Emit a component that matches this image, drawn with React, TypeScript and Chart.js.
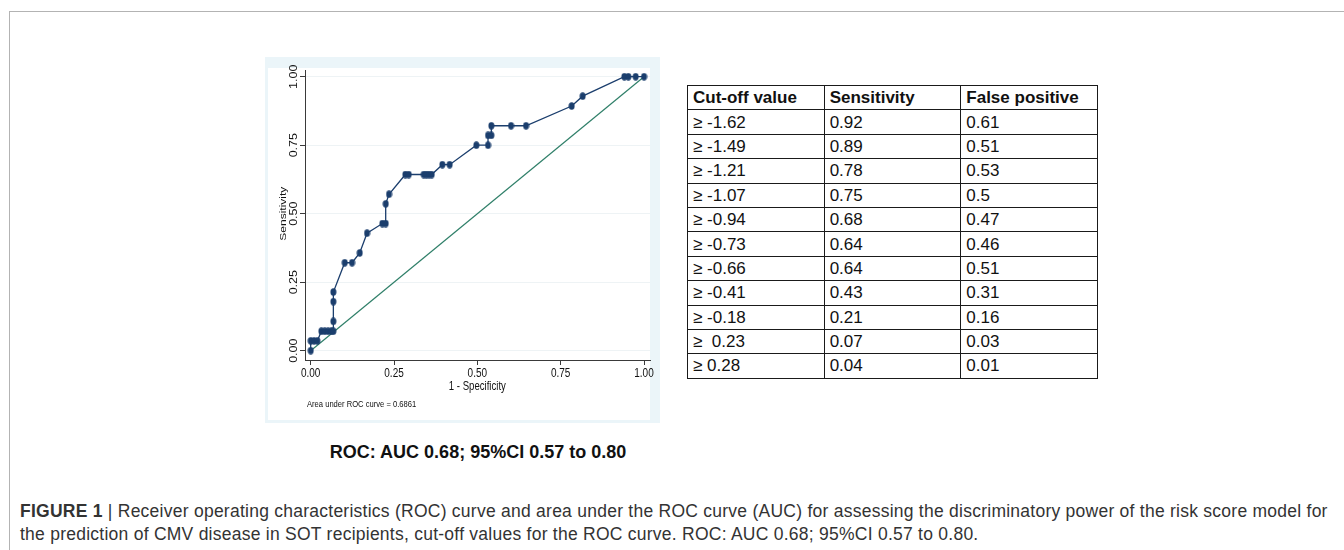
import React, { useEffect, useRef } from "react";
import { Chart, registerables } from "chart.js";

Chart.register(...registerables);

// ---------- data ----------
const fprValues = [
  0, 0, 0.01, 0.02, 0.032, 0.042, 0.052, 0.062, 0.068, 0.068, 0.068, 0.068,
  0.102, 0.124, 0.147, 0.169, 0.215, 0.225, 0.225, 0.235, 0.284, 0.294, 0.339,
  0.347, 0.355, 0.363, 0.395, 0.417, 0.497, 0.532, 0.532, 0.542, 0.542, 0.601,
  0.646, 0.783, 0.816, 0.941, 0.953, 0.975, 1.0,
];
const sensValues = [
  0, 0.036, 0.036, 0.036, 0.071, 0.071, 0.071, 0.071, 0.071, 0.107, 0.179,
  0.214, 0.321, 0.321, 0.357, 0.429, 0.464, 0.464, 0.536, 0.571, 0.643, 0.643,
  0.643, 0.643, 0.643, 0.643, 0.679, 0.679, 0.75, 0.75, 0.786, 0.786, 0.821,
  0.821, 0.821, 0.893, 0.929, 1, 1, 1, 1,
];
const referenceX = [0, 1];
const referenceY = [0, 1];
const tickValues = [0, 0.25, 0.5, 0.75, 1];
const tickLabels = ["0.00", "0.25", "0.50", "0.75", "1.00"];
const xTitle = "1 - Specificity";
const yTitle = "Sensitivity";
const aucNote = "Area under ROC curve = 0.6861";
const ciCaption = "ROC: AUC 0.68; 95%CI 0.57 to 0.80";

const tableHeaders = ["Cut-off value", "Sensitivity", "False positive"];
const cutoffValues = [
  "≥ -1.62", "≥ -1.49", "≥ -1.21", "≥ -1.07", "≥ -0.94", "≥ -0.73",
  "≥ -0.66", "≥ -0.41", "≥ -0.18", "≥\u00a0\u00a00.23", "≥ 0.28",
];
const sensitivityValues = [
  "0.92", "0.89", "0.78", "0.75", "0.68", "0.64", "0.64", "0.43", "0.21",
  "0.07", "0.04",
];
const falsePositiveValues = [
  "0.61", "0.51", "0.53", "0.5", "0.47", "0.46", "0.51", "0.31", "0.16",
  "0.03", "0.01",
];

const figureLabel = "FIGURE 1";
const figureLine1 =
  "Receiver operating characteristics (ROC) curve and area under the ROC curve (AUC) for assessing the discriminatory power of the risk score model for";
const figureLine2 =
  "the prediction of CMV disease in SOT recipients, cut-off values for the ROC curve. ROC: AUC 0.68; 95%CI 0.57 to 0.80.";

// ---------- styles ----------
const NAVY = "#1b3e6d";
const GREEN = "#2f7f69";
const AXIS = "#3a3a3a";
const PANEL = "#ebf5f9";
const FONT = '"Liberation Sans", Arial, Helvetica, sans-serif';
const SQUEEZE = 0.8;

function makeMarker(): HTMLCanvasElement {
  const c = document.createElement("canvas");
  c.width = 7;
  c.height = 8;
  const g = c.getContext("2d")!;
  g.fillStyle = NAVY;
  g.beginPath();
  g.ellipse(3.5, 4, 3, 3.7, 0, 0, Math.PI * 2);
  g.fill();
  return c;
}

const backgroundPlugin = {
  id: "stataBackground",
  beforeDraw(chart: any) {
    const { ctx, width, height } = chart;
    ctx.save();
    ctx.fillStyle = PANEL;
    ctx.fillRect(0, 0, width, height);
    ctx.fillStyle = "#ffffff";
    ctx.fillRect(3, 11, 382, 352);
    ctx.restore();
  },
};

const textPlugin = {
  id: "stataText",
  afterDraw(chart: any) {
    const { ctx } = chart;
    const xs = chart.scales.x;
    const ys = chart.scales.y;
    ctx.save();
    ctx.fillStyle = "#111111";
    ctx.textAlign = "center";
    ctx.textBaseline = "middle";
    ctx.font = `12.5px ${FONT}`;
    // y tick labels (rotated)
    tickValues.forEach((v, i) => {
      ctx.save();
      ctx.translate(29, ys.getPixelForValue(v));
      ctx.rotate(-Math.PI / 2);
      ctx.scale(1, SQUEEZE);
      ctx.fillText(tickLabels[i], 0, 0);
      ctx.restore();
    });
    // x tick labels
    tickValues.forEach((v, i) => {
      ctx.save();
      ctx.translate(xs.getPixelForValue(v), 317);
      ctx.scale(SQUEEZE, 1);
      ctx.fillText(tickLabels[i], 0, 0);
      ctx.restore();
    });
    ctx.font = `12px ${FONT}`;
    // y title
    ctx.save();
    ctx.translate(18, ys.getPixelForValue(0.5));
    ctx.rotate(-Math.PI / 2);
    ctx.scale(1, SQUEEZE);
    ctx.fillText(yTitle, 0, 0);
    ctx.restore();
    // x title
    ctx.save();
    ctx.translate(xs.getPixelForValue(0.5), 330);
    ctx.scale(SQUEEZE, 1);
    ctx.fillText(xTitle, 0, 0);
    ctx.restore();
    // AUC note
    ctx.save();
    ctx.font = `9.5px ${FONT}`;
    ctx.textAlign = "left";
    ctx.translate(42, 347);
    ctx.scale(SQUEEZE, 1);
    ctx.fillText(aucNote, 0, 0);
    ctx.restore();
    ctx.restore();
  },
};

function RocChart() {
  const ref = useRef<HTMLCanvasElement | null>(null);
  useEffect(() => {
    if (!ref.current) return;
    const marker = makeMarker();
    const rocData = fprValues.map((x, i) => ({ x, y: sensValues[i] }));
    const refData = referenceX.map((x, i) => ({ x, y: referenceY[i] }));
    const setTicks = (s: any) => {
      s.ticks = tickValues.map((value) => ({ value }));
    };
    const chart = new Chart(ref.current, {
      type: "line",
      data: {
        datasets: [
          {
            data: rocData,
            borderColor: NAVY,
            borderWidth: 1.3,
            pointStyle: marker as any,
            pointRadius: 3,
            tension: 0,
            fill: false,
          },
          {
            data: refData,
            borderColor: GREEN,
            borderWidth: 1.2,
            pointRadius: 0,
            tension: 0,
            fill: false,
          },
        ],
      },
      options: {
        responsive: false,
        animation: false,
        layout: { autoPadding: false, padding: { top: 13, right: 10, bottom: 0, left: 0 } },
        plugins: { legend: { display: false }, tooltip: { enabled: false } },
        scales: {
          x: {
            type: "linear",
            min: -0.0171,
            max: 1.018,
            afterBuildTicks: setTicks,
            afterFit: (s: any) => {
              s.height = 63;
            },
            ticks: { display: false },
            grid: {
              drawOnChartArea: false,
              drawTicks: true,
              tickLength: 5,
              tickColor: AXIS,
              color: AXIS,
            },
            border: { display: true, color: AXIS, width: 1 },
          },
          y: {
            type: "linear",
            min: -0.034,
            max: 1.0245,
            afterBuildTicks: setTicks,
            afterFit: (s: any) => {
              s.width = 40;
            },
            ticks: { display: false },
            grid: {
              drawOnChartArea: true,
              drawTicks: true,
              tickLength: 5,
              tickColor: AXIS,
              color: "#eef3f5",
            },
            border: { display: true, color: AXIS, width: 1 },
          },
        },
      },
      plugins: [backgroundPlugin, textPlugin],
    });
    return () => chart.destroy();
  }, []);
  return <canvas ref={ref} width={395} height={366} style={{ display: "block" }} />;
}

const cellStyle: React.CSSProperties = {
  border: "1px solid #1a1a1a",
  height: "23.4px",
  padding: "0 0 0 5px",
  lineHeight: "23px",
  whiteSpace: "nowrap",
  overflow: "hidden",
};

export default function App() {
  return (
    <div
      style={{
        position: "absolute",
        left: 0,
        top: 0,
        width: 1344,
        height: 550,
        overflow: "hidden",
        background: "#ffffff",
        fontFamily: FONT,
        color: "#000",
      }}
    >
      <div
        style={{
          position: "absolute",
          left: 9,
          top: 11,
          width: 1400,
          height: 600,
          borderTop: "1px solid #b3b3b3",
          borderLeft: "1px solid #b3b3b3",
        }}
      />
      <div
        style={{
          position: "absolute",
          left: 265,
          top: 57,
          width: 395,
          height: 366,
        }}
      >
        <RocChart />
      </div>
      <div
        style={{
          position: "absolute",
          left: 278,
          top: 440,
          width: 400,
          textAlign: "center",
          fontWeight: "bold",
          fontSize: 18,
          lineHeight: "24px",
          color: "#111",
          whiteSpace: "nowrap",
        }}
      >
        {ciCaption}
      </div>
      <table
        style={{
          position: "absolute",
          left: 687,
          top: 85,
          width: 411,
          borderCollapse: "collapse",
          tableLayout: "fixed",
          fontSize: 17,
          color: "#111",
        }}
      >
        <tbody>
          <tr>
            {tableHeaders.map((h) => (
              <td key={h} style={{ ...cellStyle, fontWeight: "bold" }}>
                {h}
              </td>
            ))}
          </tr>
          {cutoffValues.map((c, i) => (
            <tr key={c}>
              <td style={cellStyle}>{c}</td>
              <td style={cellStyle}>{sensitivityValues[i]}</td>
              <td style={cellStyle}>{falsePositiveValues[i]}</td>
            </tr>
          ))}
        </tbody>
      </table>
      <div
        style={{
          position: "absolute",
          left: 20,
          top: 500,
          fontSize: 17.5,
          letterSpacing: "0.25px",
          lineHeight: "23px",
          color: "#333",
          whiteSpace: "nowrap",
        }}
      >
        <span style={{ fontWeight: "bold" }}>{figureLabel}</span>
        {" | "}
        {figureLine1}
        <br />
        {figureLine2}
      </div>
    </div>
  );
}
